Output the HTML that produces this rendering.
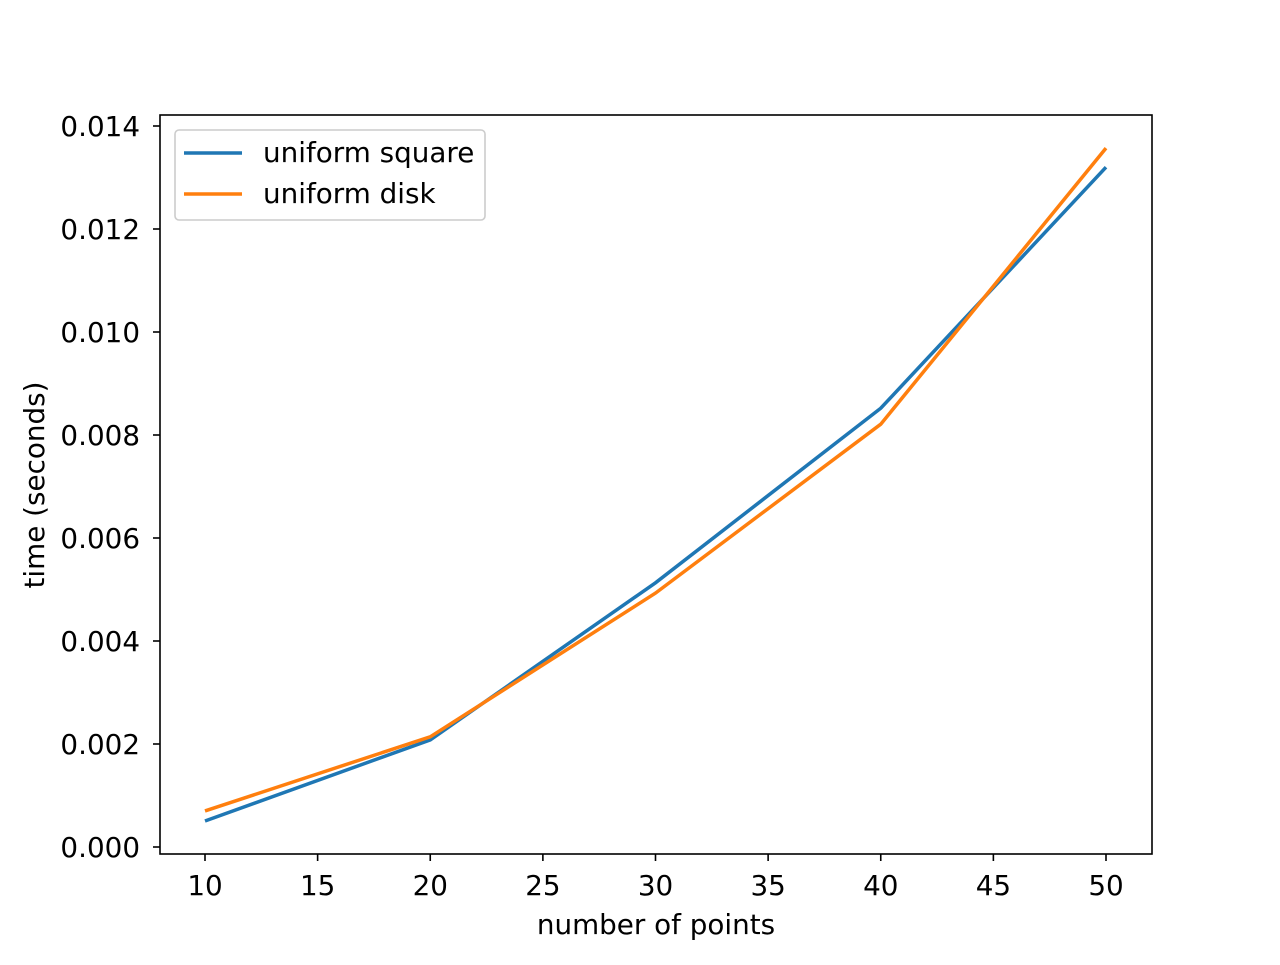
<!DOCTYPE html>
<html><head><meta charset="utf-8"><style>
body{margin:0;background:#fff}
svg text{font-family:"DejaVu Sans","Liberation Sans",sans-serif;fill:#000}
</style></head><body>
<svg width="1280" height="960">
<rect width="1280" height="960" fill="#fff"/>
<g id="axes"></g>
<g id="lines"></g>
<rect x="160" y="115" width="992" height="739" fill="none" stroke="#000" stroke-width="1.6"/>
<g>
<rect x="175" y="130" width="310" height="90" rx="4" fill="#fff" fill-opacity="0.8" stroke="#ccc" stroke-width="1.6"/>
<line x1="184" y1="153" x2="242" y2="153" stroke="#1f77b4" stroke-width="3.5"/>
<text x="263" y="162" font-size="27.8">uniform square</text>
<line x1="184" y1="194" x2="242" y2="194" stroke="#ff7f0e" stroke-width="3.5"/>
<text x="263" y="203" font-size="27.8">uniform disk</text>
</g>
<text x="656" y="934" font-size="27.8" text-anchor="middle">number of points</text>
<text transform="translate(44,485) rotate(-90)" font-size="27.8" text-anchor="middle">time (seconds)</text>
</svg>
<script>
const xValues=[10,20,30,40,50];
const squareValues=[0.000505,0.00208,0.00513,0.00852,0.0132];
const diskValues=[0.0007,0.00214,0.00493,0.00821,0.01357];
const xTicks=[10,15,20,25,30,35,40,45,50];
const yTicks=[0,0.002,0.004,0.006,0.008,0.010,0.012,0.014];
const xs=v=>205+(v-10)*(1106-205)/40;
const ys=v=>847-v*(847-126)/0.014;
const NS="http://www.w3.org/2000/svg";
const ax=document.getElementById('axes');
xTicks.forEach(t=>{
 const l=document.createElementNS(NS,'line');
 l.setAttribute('x1',xs(t));l.setAttribute('x2',xs(t));l.setAttribute('y1',854);l.setAttribute('y2',861);
 l.setAttribute('stroke','#000');l.setAttribute('stroke-width','1.6');
 
 
 ax.appendChild(l);
 const tx=document.createElementNS(NS,'text');
 tx.setAttribute('x',xs(t));tx.setAttribute('y',895);tx.setAttribute('font-size','27.8');tx.setAttribute('text-anchor','middle');
 tx.textContent=t;
 
 
 ax.appendChild(tx);
});
yTicks.forEach(t=>{
 const l=document.createElementNS(NS,'line');
 l.setAttribute('x1',153);l.setAttribute('x2',160);l.setAttribute('y1',ys(t));l.setAttribute('y2',ys(t));
 l.setAttribute('stroke','#000');l.setAttribute('stroke-width','1.6');
 
 
 ax.appendChild(l);
 const tx=document.createElementNS(NS,'text');
 tx.setAttribute('x',140);tx.setAttribute('y',ys(t)+10);tx.setAttribute('font-size','27.8');tx.setAttribute('text-anchor','end');
 tx.textContent=t.toFixed(3);
 
 
 ax.appendChild(tx);
});
const lg=document.getElementById('lines');
[[squareValues,'#1f77b4','line-uniform-square'],[diskValues,'#ff7f0e','line-uniform-disk']].forEach(([vals,c,n])=>{
 const p=document.createElementNS(NS,'polyline');
 p.setAttribute('points',vals.map((v,i)=>xs(xValues[i])+','+ys(v)).join(' '));
 p.setAttribute('fill','none');p.setAttribute('stroke',c);p.setAttribute('stroke-width','3.5');
 
 
 lg.appendChild(p);
});
</script>
</body></html>
